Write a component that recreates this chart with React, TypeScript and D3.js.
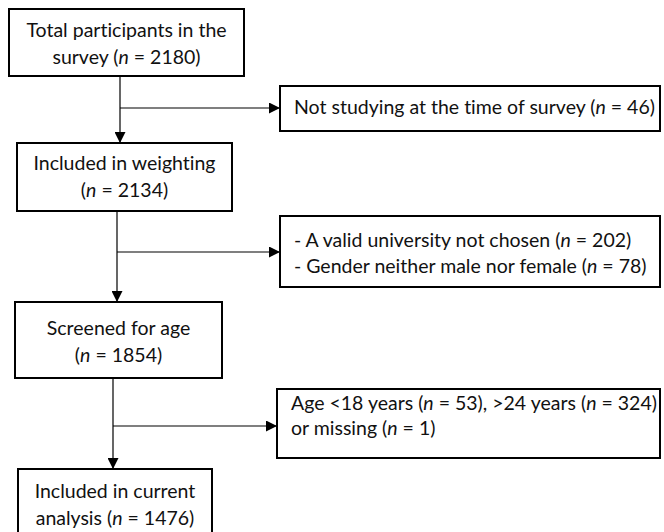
import React, { useEffect, useRef } from "react";
import * as d3 from "d3";

// main flow boxes (top to bottom), "*n*" marks the italic n
const mainLabels = [
  ["Total participants in the", "survey (*n* = 2180)"],
  ["Included in weighting", "(*n* = 2134)"],
  ["Screened for age", "(*n* = 1854)"],
  ["Included in current", "analysis (*n* = 1476)"],
];
// exclusion boxes on the right
const exclLabels = [
  ["Not studying at the time of survey (*n* = 46)"],
  ["- A valid university not chosen (*n* = 202)", "- Gender neither male nor female (*n* = 78)"],
  ["Age <18 years (*n* = 53), >24 years (*n* = 324)", "or missing (*n* = 1)"],
];

// layout
const mainBoxes = [
  { x: 9, y: 9, w: 235, h: 67, ty: 28 },
  { x: 17, y: 143, w: 215, h: 68, ty: 27 },
  { x: 15, y: 302, w: 207, h: 76, ty: 33 },
  { x: 18, y: 469, w: 194, h: 80, ty: 29 },
];
const exclBoxes = [
  { x: 280, y: 86, w: 380, h: 45, ty: 28 },
  { x: 280, y: 216, w: 380, h: 71, ty: 31 },
  { x: 277, y: 389, w: 383, h: 69, ty: 21 },
];
const branchY = [108, 252, 426];
const spineX = [120, 117, 113];

const FONT = "Lato, 'Open Sans', sans-serif";
const FS = 19.5;
const LH = 27;

function addText(g: any, lines: string[], x: number, y0: number, anchor: string, lh: number) {
  const t = g.append("text")
    .attr("font-family", FONT)
    .attr("font-size", FS)
    .attr("fill", "#111")
    .style("font-variant-ligatures", "none")
    .attr("text-anchor", anchor);
  lines.forEach((line, i) => {
    const parts = line.split("*");
    let first = true;
    parts.forEach((p, j) => {
      if (!p) return;
      const ts = t.append("tspan").text(p);
      if (first) {
        ts.attr("x", x).attr("y", y0 + i * lh);
        first = false;
      }
      if (j % 2 === 1) ts.attr("font-style", "italic");
    });
  });
}

export default function App() {
  const ref = useRef<SVGSVGElement>(null);
  useEffect(() => {
    const svg = d3.select(ref.current);
    svg.selectAll("*").remove();
    svg.append("defs").append("marker")
      .attr("id", "arr")
      .attr("viewBox", "0 0 10 10")
      .attr("refX", 10).attr("refY", 5)
      .attr("markerWidth", 11).attr("markerHeight", 11)
      .attr("markerUnits", "userSpaceOnUse")
      .attr("orient", "auto")
      .append("path").attr("d", "M0,0L10,5L0,10Z").attr("fill", "#000");

    const g = svg.append("g");
    // connectors
    mainBoxes.slice(0, -1).forEach((b, i) => {
      const next = mainBoxes[i + 1];
      const x = spineX[i];
      g.append("line")
        .attr("x1", x).attr("x2", x)
        .attr("y1", b.y + b.h).attr("y2", next.y)
        .attr("stroke", "#000").attr("stroke-width", 1.2)
        .attr("marker-end", "url(#arr)");
      g.append("line")
        .attr("x1", x).attr("x2", exclBoxes[i].x)
        .attr("y1", branchY[i]).attr("y2", branchY[i])
        .attr("stroke", "#000").attr("stroke-width", 1.2)
        .attr("marker-end", "url(#arr)");
    });

    // main boxes
    mainBoxes.forEach((b, i) => {
      g.append("rect")
        .attr("x", b.x).attr("y", b.y).attr("width", b.w).attr("height", b.h)
        .attr("fill", "#fff").attr("stroke", "#000").attr("stroke-width", 2);
      addText(g, mainLabels[i], b.x + b.w / 2, b.y + b.ty, "middle", LH);
    });

    exclBoxes.forEach((b, i) => {
      g.append("rect")
        .attr("x", b.x).attr("y", b.y).attr("width", b.w).attr("height", b.h)
        .attr("fill", "#fff").attr("stroke", "#000").attr("stroke-width", 2);
      addText(g, exclLabels[i], b.x + 14, b.y + b.ty, "start", i === 2 ? 25 : 26);
    });
  }, []);

  return (
    <svg ref={ref} width={664} height={532}
      style={{ position: "absolute", left: 0, top: 0, background: "#fff" }} />
  );
}
